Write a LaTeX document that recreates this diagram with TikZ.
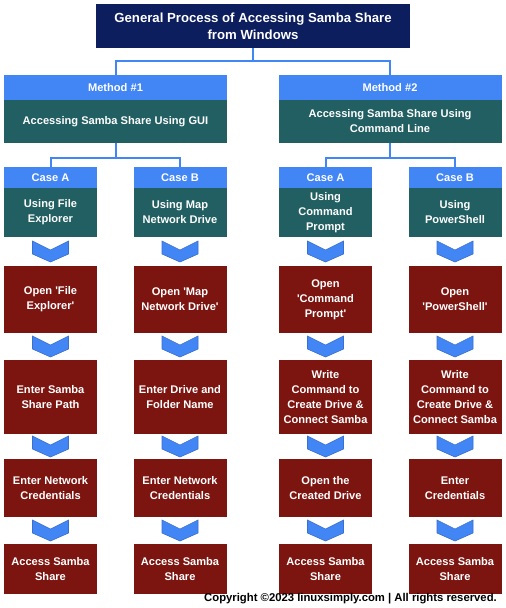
\documentclass[tikz,border=0pt]{standalone}
\usepackage{fontspec}
\setmainfont{Liberation Sans}
\usetikzlibrary{calc}

\definecolor{mnavy}{RGB}{12,30,94}
\definecolor{mblue}{RGB}{66,133,244}
\definecolor{mteal}{RGB}{33,95,99}
\definecolor{mred}{RGB}{124,21,16}
\definecolor{mchevline}{RGB}{58,112,205}

% chevron halfway between two boxes
\newcommand{\chev}[2]{\draw [chev,shift={($(#1.south)!0.5!(#2.north)$)}]
  (-18,-10.5) -- (0,-1.5) -- (18,-10.5) -- (18,2.5) -- (0,10.5) -- (-18,2.5) -- cycle;}

\begin{document}
\begin{tikzpicture}
  [x=1pt,y=-1pt,
   every node/.style={inner sep=0pt,align=center,text=white,font=\bfseries\fontsize{11.1}{15}\selectfont},
   titlebox/.style={fill=mnavy,minimum width=314,minimum height=44,font=\bfseries\fontsize{13.2}{17}\selectfont},
   headbox/.style={fill=mblue,minimum width=223,minimum height=25},
   methodbox/.style={fill=mteal,minimum width=223,minimum height=43},
   casehead/.style={fill=mblue,minimum width=93,minimum height=21},
   casebox/.style={fill=mteal,minimum width=93,minimum height=49},
   stepbox/.style={fill=mred,minimum width=93},
   link/.style={draw=mblue,line width=2pt},
   chev/.style={fill=mblue,draw=mchevline,line width=0.6pt}]
  \fill [white] (0,0) rectangle (506,608);

  \node [titlebox] (title) at (253,26) {General Process of Accessing Samba Share\\from Windows};
  \node [headbox] (m1) at (115.5,87.5) {Method \#1};
  \node [methodbox] (m1b) at (115.5,121.5) {Accessing Samba Share Using GUI};
  \node [headbox] (m2) at (390,87.5) {Method \#2};
  \node [methodbox] (m2b) at (390,121.5) {Accessing Samba Share Using\\Command Line};

  \node [casehead] (k1) at (50.5,177.5) {Case A};
  \node [casebox] (u1) at (50.5,212.5) {Using File\\Explorer};
  \node [casehead] (k2) at (180,177.5) {Case B};
  \node [casebox] (u2) at (180,212.5) {Using Map\\Network Drive};
  \node [casehead] (k3) at (325.5,177.5) {Case A};
  \node [casebox] (u3) at (325.5,212.5) {Using\\Command\\Prompt};
  \node [casehead] (k4) at (455,177.5) {Case B};
  \node [casebox] (u4) at (455,212.5) {Using\\PowerShell};

  \node [stepbox,minimum height=67] (s11) at (50.5,299.5) {Open \textquotesingle File\\Explorer\textquotesingle};
  \node [stepbox,minimum height=67] (s12) at (180,299.5) {Open \textquotesingle Map\\Network Drive\textquotesingle};
  \node [stepbox,minimum height=67] (s13) at (325.5,299.5) {Open\\\textquotesingle Command\\Prompt\textquotesingle};
  \node [stepbox,minimum height=67] (s14) at (455,299.5) {Open\\\textquotesingle PowerShell\textquotesingle};

  \node [stepbox,minimum height=74] (s21) at (50.5,397) {Enter Samba\\Share Path};
  \node [stepbox,minimum height=74] (s22) at (180,397) {Enter Drive and\\Folder Name};
  \node [stepbox,minimum height=74] (s23) at (325.5,397) {Write\\Command to\\Create Drive \&\\Connect Samba};
  \node [stepbox,minimum height=74] (s24) at (455,397) {Write\\Command to\\Create Drive \&\\Connect Samba};

  \node [stepbox,minimum height=58] (s31) at (50.5,488) {Enter Network\\Credentials};
  \node [stepbox,minimum height=58] (s32) at (180,488) {Enter Network\\Credentials};
  \node [stepbox,minimum height=58] (s33) at (325.5,488) {Open the\\Created Drive};
  \node [stepbox,minimum height=58] (s34) at (455,488) {Enter\\Credentials};

  \node [stepbox,minimum height=50] (s41) at (50.5,569) {Access Samba\\Share};
  \node [stepbox,minimum height=50] (s42) at (180,569) {Access Samba\\Share};
  \node [stepbox,minimum height=50] (s43) at (325.5,569) {Access Samba\\Share};
  \node [stepbox,minimum height=50] (s44) at (455,569) {Access Samba\\Share};

  \node [text=black,anchor=east,font=\bfseries\fontsize{11.3}{13}\selectfont] (copy) at (497,599)
    {Copyright ©2023 linuxsimply.com | All rights reserved.};

  \foreach \from/\to in {title/m1,title/m2}
    \draw [link] (\from.south) -- ++(0,13) -| (\to.north);
  \foreach \from/\to in {m1b/k1,m1b/k2,m2b/k3,m2b/k4}
    \draw [link] (\from.south) -- ++(0,15) -| (\to.north);

  \foreach \c in {1,...,4} {
    \chev{u\c}{s1\c}
    \chev{s1\c}{s2\c}
    \chev{s2\c}{s3\c}
    \chev{s3\c}{s4\c}
  }
\end{tikzpicture}
\end{document}
